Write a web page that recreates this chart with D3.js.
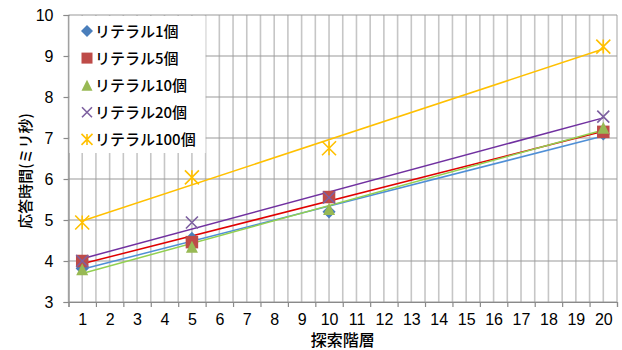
<!DOCTYPE html>
<html>
<head>
<meta charset="utf-8">
<script src="https://cdn.jsdelivr.net/npm/d3@7"></script>
<style>
  html, body { margin: 0; padding: 0; background: #fff; }
  svg { display: block; }
  .num { font-family: "Liberation Sans", Arial, sans-serif; }
  .jp { font-family: "Noto Sans CJK JP", sans-serif; }
</style>
</head>
<body>
<svg id="chart" width="622" height="350"></svg>
<script>
// search depth categories (1..20) and measured points
const categories = d3.range(1, 21);
const depths = [1, 5, 10, 20];
const seriesNames = ["リテラル1個", "リテラル5個", "リテラル10個", "リテラル20個", "リテラル100個"];
const lit1 = [3.82, 4.55, 5.2, 7.1];
const lit5 = [4.0, 4.46, 5.56, 7.15];
const lit10 = [3.8, 4.35, 5.27, 7.25];
const lit20 = [4.0, 4.94, 5.55, 7.52];
const lit100 = [4.94, 6.04, 6.75, 9.23];
const yTicks = [3, 4, 5, 6, 7, 8, 9, 10];

const seriesValues = [lit1, lit5, lit10, lit20, lit100];
const markerColors = ["#4A7EBB", "#BE4B48", "#98B954", "#7D60A0", "#FFC000"];
const trendColors = ["#4F8FD6", "#E00000", "#92D050", "#7030A0", "#FFC000"];
const markerTypes = ["diamond", "square", "triangle", "x", "star"];

const svg = d3.select("#chart");
const plotLeft = 68.5, plotRight = 617, plotTop = 15, plotBottom = 302;

const x = d3.scaleLinear().domain([0.5, 20.5]).range([plotLeft, plotRight]);
const y = d3.scaleLinear().domain([3, 10]).range([plotBottom, plotTop]);

// vertical gridlines at category boundaries and centres
const vLines = d3.range(0.5, 20.51, 0.5);
svg.append("g").selectAll("line").data(vLines).join("line")
  .attr("x1", d => x(d)).attr("x2", d => x(d))
  .attr("y1", plotTop).attr("y2", plotBottom)
  .attr("stroke", "#c6c6c6").attr("stroke-width", 1.6);

// horizontal gridlines
svg.append("g").selectAll("line").data(yTicks).join("line")
  .attr("x1", plotLeft).attr("x2", plotRight)
  .attr("y1", d => y(d)).attr("y2", d => y(d))
  .attr("stroke", "#9a9a9a").attr("stroke-width", 1.2);

// y axis
const yAxis = svg.append("g").attr("transform", `translate(${plotLeft},0)`)
  .call(d3.axisLeft(y).tickValues(yTicks).tickSize(5).tickPadding(10).tickFormat(d3.format("d")));
yAxis.select(".domain").attr("stroke", "#8a8a8a").attr("stroke-width", 1.2);
yAxis.selectAll(".tick line").attr("stroke", "#8a8a8a").attr("stroke-width", 1.2);
yAxis.selectAll("text").attr("class", "num")
  .style("font-size", "16px").attr("fill", "#000");

// x axis: tick marks at boundaries, labels at centres
const xTickAxis = svg.append("g").attr("transform", `translate(0,${plotBottom})`)
  .call(d3.axisBottom(x).tickValues(d3.range(0.5, 20.51, 1)).tickSize(5).tickFormat(""));
xTickAxis.select(".domain").attr("stroke", "#8a8a8a").attr("stroke-width", 1.2);
xTickAxis.selectAll(".tick line").attr("stroke", "#8a8a8a").attr("stroke-width", 1.2);

const xLabelAxis = svg.append("g").attr("transform", `translate(0,${plotBottom})`)
  .call(d3.axisBottom(x).tickValues(categories).tickSize(0).tickPadding(12).tickFormat(d3.format("d")));
xLabelAxis.select(".domain").remove();
xLabelAxis.selectAll("text").attr("class", "num")
  .style("font-size", "16px").attr("fill", "#000").attr("dy", "0.66em");

// axis titles
svg.append("text").attr("class", "jp").attr("x", x(10.5)).attr("y", 346)
  .attr("text-anchor", "middle").style("font-size", "16px").attr("font-weight", 500)
  .text("探索階層");
svg.append("text").attr("class", "jp").attr("transform", `translate(31,171) rotate(-90)`)
  .attr("text-anchor", "middle").style("font-size", "15px").attr("font-weight", 500)
  .text("応答時間(ミリ秒)");

// least-squares trend line for each series
function fit(vals) {
  const mx = d3.mean(depths), my = d3.mean(vals);
  let sxy = 0, sxx = 0;
  depths.forEach((d, i) => { sxy += (d - mx) * (vals[i] - my); sxx += (d - mx) * (d - mx); });
  const b = sxy / sxx, a = my - b * mx;
  return v => a + b * v;
}

const trendG = svg.append("g");
seriesValues.forEach((vals, i) => {
  const f = fit(vals);
  trendG.append("line")
    .attr("x1", x(1)).attr("y1", y(f(1)))
    .attr("x2", x(20)).attr("y2", y(f(20)))
    .attr("stroke", trendColors[i]).attr("stroke-width", 1.5);
});

// marker shapes
function drawMarker(g, type, cx, cy, color, s) {
  if (type === "diamond") {
    g.append("path").attr("d", `M${cx},${cy - s * 0.6}L${cx + s * 0.6},${cy}L${cx},${cy + s * 0.6}L${cx - s * 0.6},${cy}Z`).attr("fill", color);
  } else if (type === "square") {
    g.append("rect").attr("x", cx - s / 2).attr("y", cy - s / 2).attr("width", s).attr("height", s).attr("fill", color);
  } else if (type === "triangle") {
    g.append("path").attr("d", `M${cx},${cy - s / 2}L${cx + s / 2},${cy + s / 2}L${cx - s / 2},${cy + s / 2}Z`).attr("fill", color);
  } else if (type === "x") {
    const h = s / 2;
    g.append("path").attr("d", `M${cx - h},${cy - h}L${cx + h},${cy + h}M${cx + h},${cy - h}L${cx - h},${cy + h}`)
      .attr("stroke", color).attr("stroke-width", 1.6).attr("fill", "none");
  } else if (type === "star") {
    const h = s / 2;
    g.append("path").attr("d", `M${cx - h},${cy - h}L${cx + h},${cy + h}M${cx + h},${cy - h}L${cx - h},${cy + h}M${cx},${cy - h}L${cx},${cy + h}`)
      .attr("stroke", color).attr("stroke-width", 1.6).attr("fill", "none");
  }
}

const markerSizes = [11, 12.5, 12, 12, 14];
const markG = svg.append("g");
seriesValues.forEach((vals, i) => {
  vals.forEach((v, j) => {
    drawMarker(markG, markerTypes[i], x(depths[j]), y(v), markerColors[i], markerSizes[i]);
  });
});

// legend
const leg = svg.append("g");
leg.append("rect").attr("x", plotLeft + 1).attr("y", plotTop + 1).attr("width", 136).attr("height", 137).attr("fill", "#fff");
seriesNames.forEach((name, i) => {
  const cy = 31 + i * 27.1;
  drawMarker(leg, markerTypes[i], 87, cy, markerColors[i], [10, 11, 11, 10, 11][i]);
  leg.append("text").attr("class", "jp").attr("x", 95).attr("y", cy + 5.5)
    .style("font-size", "15px").attr("font-weight", 500)
    .text(name);
});
</script>
</body>
</html>
